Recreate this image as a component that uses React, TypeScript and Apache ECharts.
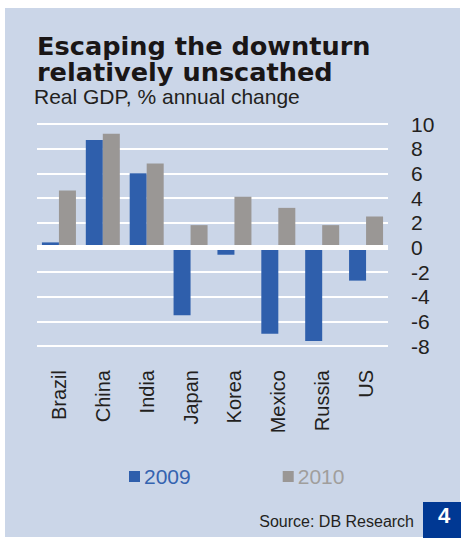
import React, { useEffect, useRef } from "react";
import * as echarts from "echarts";

const categories = ["Brazil", "China", "India", "Japan", "Korea", "Mexico", "Russia", "US"];
const gdp2009 = [0.4, 8.7, 6.0, -5.5, -0.6, -7.0, -7.6, -2.7];
const gdp2010 = [4.6, 9.2, 6.8, 1.8, 4.1, 3.2, 1.8, 2.5];
const seriesNames = ["2009", "2010"];
const yTicks = { min: -8, max: 10, interval: 2 };

const titleLines = ["Escaping the downturn", "relatively unscathed"];
const subtitle = "Real GDP, % annual change";
const source = "Source: DB Research";
const pageNumber = "4";

const BLUE = "#2F5FAC";
const GREY = "#9A9795";
const FONT = "'Liberation Sans', Arial, sans-serif";

export default function App() {
  const ref = useRef<HTMLDivElement>(null);

  useEffect(() => {
    if (!ref.current) return;
    const chart = echarts.init(ref.current, null, { renderer: "svg" });
    const titleStyle = {
      fontFamily: "'DejaVu Sans', sans-serif",
      fontWeight: "bold",
      fontSize: 25.6,
      fill: "#1a1616",
      verticalAlign: "middle",
      align: "left",
    };
    chart.setOption({
      animation: false,
      backgroundColor: "#ffffff",
      textStyle: { fontFamily: FONT },
      graphic: [
        {
          type: "rect",
          z: -10,
          shape: { x: 5, y: 8, width: 455, height: 529 },
          style: { fill: "#CBD6E8" },
          silent: true,
        },
        {
          type: "text",
          x: 37,
          y: 45.5,
          style: { ...titleStyle, text: titleLines[0] },
        },
        {
          type: "text",
          x: 37,
          y: 71.5,
          style: { ...titleStyle, text: titleLines[1] },
        },
        {
          type: "text",
          x: 34,
          y: 96,
          style: {
            text: subtitle,
            fontFamily: FONT,
            fontSize: 21,
            fill: "#231f20",
            verticalAlign: "middle",
            align: "left",
          },
        },
        {
          type: "text",
          x: 414,
          y: 521,
          style: {
            text: source,
            fontFamily: FONT,
            fontSize: 16,
            fill: "#231f20",
            verticalAlign: "middle",
            align: "right",
          },
        },
        {
          type: "rect",
          shape: { x: 423, y: 502, width: 38, height: 36 },
          style: { fill: "#003893" },
        },
        {
          type: "text",
          x: 444,
          y: 515,
          style: {
            text: pageNumber,
            fontFamily: FONT,
            fontWeight: "bold",
            fontSize: 22,
            fill: "#ffffff",
            verticalAlign: "middle",
            align: "center",
          },
        },
      ],
      legend: {
        left: 129,
        top: 466,
        padding: 0,
        icon: "rect",
        itemWidth: 11,
        itemHeight: 11,
        itemGap: 92,
        textStyle: { fontFamily: FONT, fontSize: 21, padding: [0, 0, 0, -1] },
        data: [
          { name: seriesNames[0], textStyle: { color: "#3463B0" } },
          { name: seriesNames[1], textStyle: { color: "#A09E9C" } },
        ],
      },
      grid: { left: 37, right: 73, top: 124, bottom: 192, containLabel: false },
      xAxis: {
        type: "category",
        data: categories,
        axisLine: { show: false },
        axisTick: { show: false },
        axisLabel: {
          rotate: 90,
          margin: 24,
          fontFamily: FONT,
          fontSize: 20,
          color: "#231f20",
        },
      },
      yAxis: {
        type: "value",
        position: "right",
        min: yTicks.min,
        max: yTicks.max,
        interval: yTicks.interval,
        axisLine: { show: false },
        axisTick: { show: false },
        axisLabel: {
          margin: 23,
          fontFamily: FONT,
          fontSize: 21,
          color: "#231f20",
          align: "left",
        },
        splitLine: { lineStyle: { color: "#ffffff", width: 2 } },
      },
      series: [
        {
          name: seriesNames[0],
          type: "bar",
          data: gdp2009,
          barWidth: 17,
          barGap: "0%",
          itemStyle: { color: BLUE },
          markLine: {
            silent: true,
            symbol: "none",
            label: { show: false },
            lineStyle: { color: "#ffffff", width: 5, type: "solid" },
            data: [{ yAxis: 0 }],
          },
        },
        {
          name: seriesNames[1],
          type: "bar",
          data: gdp2010,
          barWidth: 17,
          barGap: "0%",
          itemStyle: { color: GREY },
        },
      ],
    });
    return () => chart.dispose();
  }, []);

  return (
    <div
      ref={ref}
      style={{ position: "fixed", left: 0, top: 0, width: 461, height: 538 }}
    />
  );
}
